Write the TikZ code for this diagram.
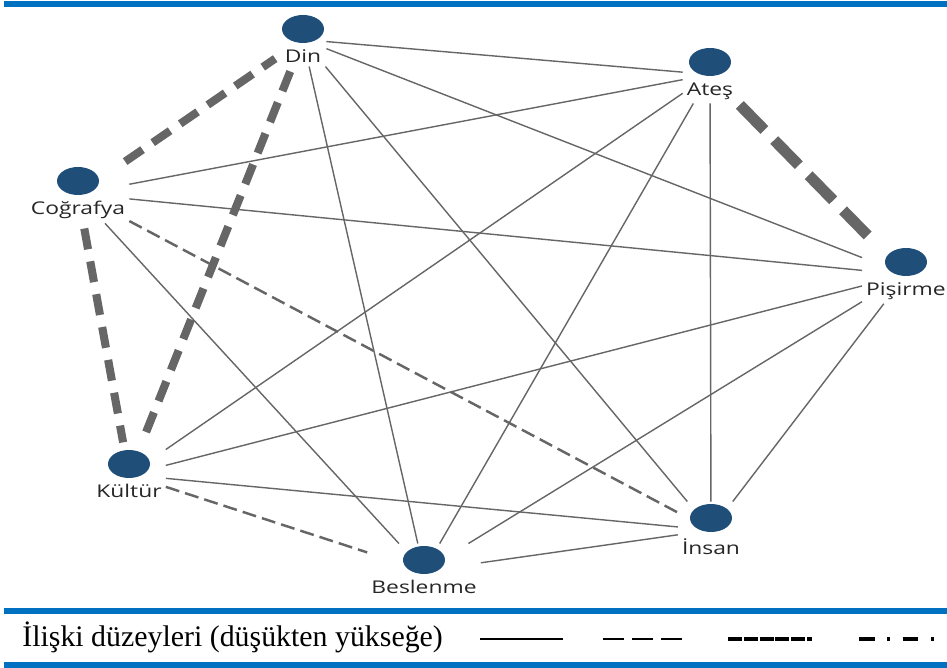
\documentclass[tikz,border=0pt]{standalone}
\usepackage{fontspec}
\setmainfont{Liberation Serif}
\newfontfamily\labelfont{Open Sans}[FakeStretch=1.3]
\usepackage{tikz}
\usetikzlibrary{positioning, fit, shapes.geometric}
\definecolor{barBlue}{RGB}{0,112,192}
\definecolor{dotBlue}{RGB}{31,78,121}
\definecolor{relGray}{gray}{0.40}

\begin{document}
\begin{tikzpicture}[x=0.02cm, y=-0.02cm,
    dot/.style={ellipse, fill=dotBlue, minimum width=0.84cm, minimum height=0.56cm, inner sep=0pt},
    dotlabel/.style={font=\labelfont\fontsize{10}{12}\selectfont, inner sep=1pt, text=black!85},
    grp/.style={inner sep=1pt},
    relone/.style={relGray, line width=0.8pt},
    reltwo/.style={relGray, line width=1.4pt, dash pattern=on 8pt off 3.5pt},
    relthree/.style={relGray, line width=4.6pt, dash pattern=on 12pt off 7pt, shorten <=3pt, shorten >=3pt},
    relfour/.style={relGray, line width=6.3pt, dash pattern=on 20pt off 8pt, shorten <=2pt, shorten >=2pt}]
    \useasboundingbox (0,0) rectangle (947,668);

    % blue rules
    \fill[barBlue] (4,1) rectangle (947,7);
    \fill[barBlue] (4,608) rectangle (947,614);
    \fill[barBlue] (4,662) rectangle (947,668);

    % concepts
    \foreach \n/\x/\y/\t in {din/303/29/Din, ates/710/62/Ateş, cog/78/181/Coğrafya,
        pis/906/262/Pişirme, kul/129/464/Kültür, ins/711/518/İnsan, bes/424/560/Beslenme} {
        \node[dot] (\n) at (\x,\y) {};
        \node[dotlabel, below=0.8mm of \n] (\n-t) {\t};
        \node[grp, fit=(\n)(\n-t)] (\n-g) {};
    }

    % relations
    \draw[relone] (din-g) -- (ates-g);
    \draw[relone] (din-g) -- (pis-g);
    \draw[relone] (din-g) -- (bes-g);
    \draw[relone] (din-g) -- (ins-g);
    \draw[relone] (ates-g) -- (cog-g);
    \draw[relone] (ates-g) -- (kul-g);
    \draw[relone] (ates-g) -- (bes-g);
    \draw[relone] (ates-g) -- (ins-g);
    \draw[relone] (cog-g) -- (pis-g);
    \draw[relone] (cog-g) -- (bes-g);
    \draw[relone] (pis-g) -- (kul-g);
    \draw[relone] (pis-g) -- (bes-g);
    \draw[relone] (pis-g) -- (ins-g);
    \draw[relone] (kul-g) -- (ins-g);
    \draw[relone] (bes-g) -- (ins-g);
    \draw[reltwo] (cog-g) -- (ins-g);
    \draw[reltwo] (kul-g) -- (bes-g);
    \draw[relthree] (cog-g) -- (din-g);
    \draw[relthree] (din-g) -- (kul-g);
    \draw[relthree] (cog-g) -- (kul-g);
    \draw[relfour] (ates-g) -- (pis-g);

    % legend
    \node[anchor=west, inner sep=0pt, font=\fontsize{17}{20}\selectfont] (legend) at (22,637) {İlişki düzeyleri (düşükten yükseğe)};
    \draw[black, line width=1.1pt] (480,639) -- (563,639);
    \draw[black, line width=1.4pt, dash pattern=on 12pt off 4.6pt] (603,639) -- (683,639);
    \draw[black, line width=2.2pt, dash pattern=on 7.9pt off 1.1pt] (728,639) -- (812,639);
    \draw[black, line width=2.2pt, dash pattern=on 9pt off 7pt on 1.8pt off 7pt] (859,639) -- (935,639);
\end{tikzpicture}
\end{document}
